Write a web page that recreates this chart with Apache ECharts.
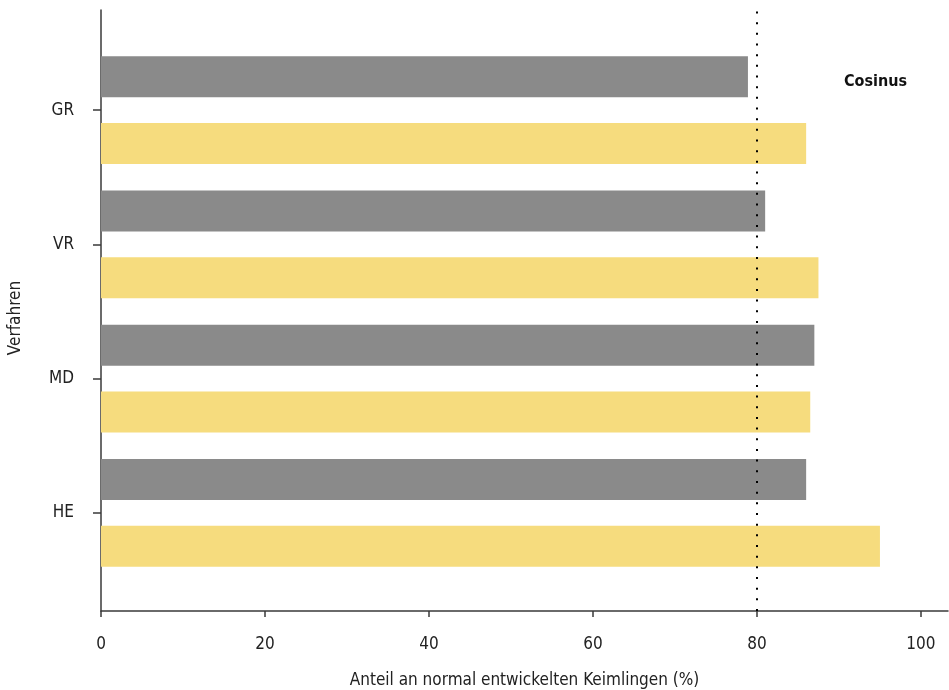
<!DOCTYPE html>
<html><head><meta charset="utf-8">
<script src="https://cdn.jsdelivr.net/npm/echarts@6/dist/echarts.min.js"></script>
<style>html,body{margin:0;padding:0;background:#fff}#c{width:949px;height:690px}</style>
</head><body><div id="c"></div>
<script>
const categories = ['GR', 'VR', 'MD', 'HE'];
const grayValues = [78.9, 81.0, 87.0, 86.0];
const yellowValues = [86.0, 87.5, 86.5, 95.0];
const referenceValue = [80];
const xTicks = [0, 20, 40, 60, 80, 100];

const FONT = '"Liberation Sans Narrow", "DejaVu Sans Condensed", "Open Sans", sans-serif';
const L = 101, R = 1, AX = '#3a3a3a';
const chart = echarts.init(document.getElementById('c'));
chart.setOption({
  animation: false,
  textStyle: { fontFamily: FONT },
  grid: [
    { left: L, right: R, top: 43, height: 537, outerBoundsMode: 'none', containLabel: false },
    { left: L, right: R, top: 10, bottom: 79, outerBoundsMode: 'none', containLabel: false }
  ],
  xAxis: [
    { gridIndex: 0, type: 'value', min: 0, max: 103.3, show: false },
    { gridIndex: 1, type: 'value', min: 0, max: 103.3,
      axisLine: { show: true, lineStyle: { color: AX, width: 1.5 } },
      axisTick: { show: true, customValues: xTicks, length: 6, lineStyle: { color: AX, width: 1.5 } },
      axisLabel: { customValues: xTicks, color: '#222', fontSize: 17, margin: 25, fontFamily: FONT },
      splitLine: { show: false },
      name: 'Anteil an normal entwickelten Keimlingen (%)',
      nameLocation: 'middle', nameGap: 61,
      nameTextStyle: { color: '#222', fontSize: 17, fontFamily: FONT }
    }
  ],
  yAxis: [
    { gridIndex: 0, type: 'category', data: categories, inverse: true,
      axisLine: { show: false },
      axisTick: { show: true, alignWithLabel: true, length: 8, lineStyle: { color: AX, width: 1.5 } },
      axisLabel: { color: '#222', fontSize: 17, margin: 27, fontFamily: FONT }
    },
    { gridIndex: 1, type: 'value', min: 0, max: 1,
      axisLine: { show: true, lineStyle: { color: AX, width: 1.5 } },
      axisTick: { show: false }, axisLabel: { show: false }, splitLine: { show: false }
    }
  ],
  series: [
    { type: 'bar', name: 'gray', xAxisIndex: 0, yAxisIndex: 0, data: grayValues,
      barWidth: 41, barGap: '63%', itemStyle: { color: '#8a8a8a' } },
    { type: 'bar', name: 'yellow', xAxisIndex: 0, yAxisIndex: 0, data: yellowValues,
      barWidth: 41, barGap: '63%', itemStyle: { color: '#f6dc7e' } },
    { type: 'line', xAxisIndex: 1, yAxisIndex: 1, data: [], silent: true,
      markLine: { silent: true, symbol: 'none', label: { show: false },
        lineStyle: { color: '#000', width: 2, type: [2, 8.67] },
        data: referenceValue.map(v => ({ xAxis: v })) } }
  ],
  graphic: [
    { type: 'text', left: 844, top: 74,
      style: { text: 'Cosinus', font: 'bold 16px ' + FONT, fill: '#111' } },
    { type: 'text', x: 16, y: 318, rotation: Math.PI / 2,
      style: { text: 'Verfahren', font: '17px ' + FONT, fill: '#222', align: 'center', verticalAlign: 'middle' } }
  ]
});
</script></body></html>
